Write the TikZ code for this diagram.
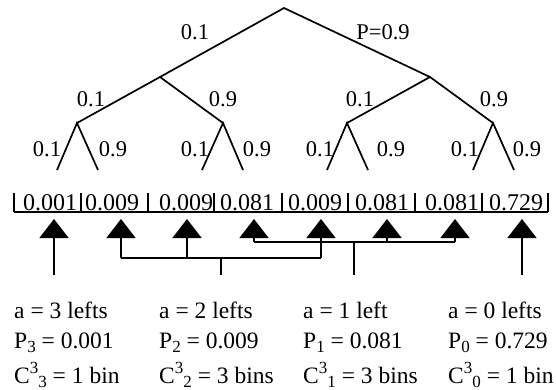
\documentclass[tikz,border=0pt]{standalone}
\usepackage{fontspec}
\setmainfont{Liberation Serif}
\usetikzlibrary{arrows.meta}
\newcommand\dnx[1]{\raisebox{-4.5pt}{\fontsize{17}{17}\selectfont #1}}
\newcommand\upx[1]{\raisebox{10pt}{\fontsize{17}{17}\selectfont #1}}
\tikzset{
  edge/.style={line width=1.7pt},
  conn/.style={line width=1.6pt},
  arr/.style={line width=1.6pt,-{Triangle[length=19pt,width=29pt]}},
  lbl/.style={inner sep=0pt,font=\fontsize{22.5}{22.5}\selectfont},
  bintxt/.style={inner sep=0pt,anchor=base,font=\fontsize{24}{24}\selectfont},
  txt/.style={inner sep=0pt,anchor=base west,font=\fontsize{23.5}{23.5}\selectfont},
}
\begin{document}
\begin{tikzpicture}[x=1pt,y=-1pt]
\useasboundingbox (0,0) rectangle (556,389);
% tree
\coordinate (root) at (284,8);
\coordinate (L) at (160,77);
\coordinate (R) at (430,77);
\coordinate (LL) at (77,123);
\coordinate (LR) at (223,123);
\coordinate (RL) at (347,123);
\coordinate (RR) at (493,123);
\coordinate (f1) at (57,170);
\coordinate (f2) at (98,170);
\coordinate (f3) at (202,170);
\coordinate (f4) at (243,170);
\coordinate (f5) at (327,170);
\coordinate (f6) at (368,170);
\coordinate (f7) at (473,170);
\coordinate (f8) at (514,170);
\draw[edge] (L) -- (root) -- (R);
\draw[edge] (LL) -- (L) -- (LR);
\draw[edge] (RL) -- (R) -- (RR);
\draw[edge] (f1) -- (LL) -- (f2);
\draw[edge] (f3) -- (LR) -- (f4);
\draw[edge] (f5) -- (RL) -- (f6);
\draw[edge] (f7) -- (RR) -- (f8);
% tree labels
\node[lbl] (p1) at (195,32) {0.1};
\node[lbl] (p2) at (383,32) {P=0.9};
\node[lbl] (p3) at (91,99) {0.1};
\node[lbl] (p4) at (223,99) {0.9};
\node[lbl] (p5) at (360,99) {0.1};
\node[lbl] (p6) at (494,99) {0.9};
\node[lbl] (q1) at (47,149) {0.1};
\node[lbl] (q2) at (113,149) {0.9};
\node[lbl] (q3) at (195,149) {0.1};
\node[lbl] (q4) at (257,149) {0.9};
\node[lbl] (q5) at (320,149) {0.1};
\node[lbl] (q6) at (391,149) {0.9};
\node[lbl] (q7) at (465,149) {0.1};
\node[lbl] (q8) at (527,149) {0.9};
% bins
\draw[edge] (14,212) -- (548,212);
\foreach \x in {14,81,148,214,282,348,415,482,548}
  \draw[edge] (\x,193) -- (\x,212);
\node[bintxt] (b1) at (50,210) {0.001};
\node[bintxt] (b2) at (112,210) {0.009};
\node[bintxt] (b3) at (186,210) {0.009};
\node[bintxt] (b4) at (247,210) {0.081};
\node[bintxt] (b5) at (315,210) {0.009};
\node[bintxt] (b6) at (382,210) {0.081};
\node[bintxt] (b7) at (452,210) {0.081};
\node[bintxt] (b8) at (516,210) {0.729};
% arrows
\coordinate (s1) at (54,275);
\coordinate (s8) at (522,275);
\draw[arr] (s1) -- (54,219);
\draw[arr] (s8) -- (522,219);
% group for 2 lefts
\coordinate (g1) at (121,258);
\coordinate (g2) at (187,258);
\coordinate (g3) at (321,258);
\coordinate (g1c) at (221,258);
\coordinate (g1e) at (221,275);
\draw[conn] (g1) -- (g3);
\draw[conn] (g1c) -- (g1e);
\draw[arr] (g1) -- (121,219);
\draw[arr] (g2) -- (187,219);
\draw[arr] (g3) -- (321,219);
% group for 1 left
\coordinate (h1) at (254,242);
\coordinate (h2) at (387,242);
\coordinate (h3) at (455,242);
\coordinate (h1c) at (354,242);
\coordinate (h1e) at (354,275);
\draw[conn] (h1) -- (h3);
\draw[conn] (h1c) -- (h1e);
\draw[arr] (h1) -- (254,219);
\draw[arr] (h2) -- (387,219);
\draw[arr] (h3) -- (455,219);
% bottom text
\node[txt] (a3) at (14,318) {a = 3 lefts};
\node[txt] (a2) at (159,318) {a = 2 lefts};
\node[txt] (a1) at (303,318) {a = 1 left};
\node[txt] (a0) at (448,318) {a = 0 lefts};
\node[txt] (P3) at (14,348) {P\dnx{3} = 0.001};
\node[txt] (P2) at (159,348) {P\dnx{2} = 0.009};
\node[txt] (P1) at (303,348) {P\dnx{1} = 0.081};
\node[txt] (P0) at (448,348) {P\dnx{0} = 0.729};
\node[txt] (C3) at (14,383) {C\upx{3}\dnx{3} = 1 bin};
\node[txt] (C2) at (159,383) {C\upx{3}\dnx{2} = 3 bins};
\node[txt] (C1) at (303,383) {C\upx{3}\dnx{1} = 3 bins};
\node[txt] (C0) at (448,383) {C\upx{3}\dnx{0} = 1 bin};
\end{tikzpicture}
\end{document}
